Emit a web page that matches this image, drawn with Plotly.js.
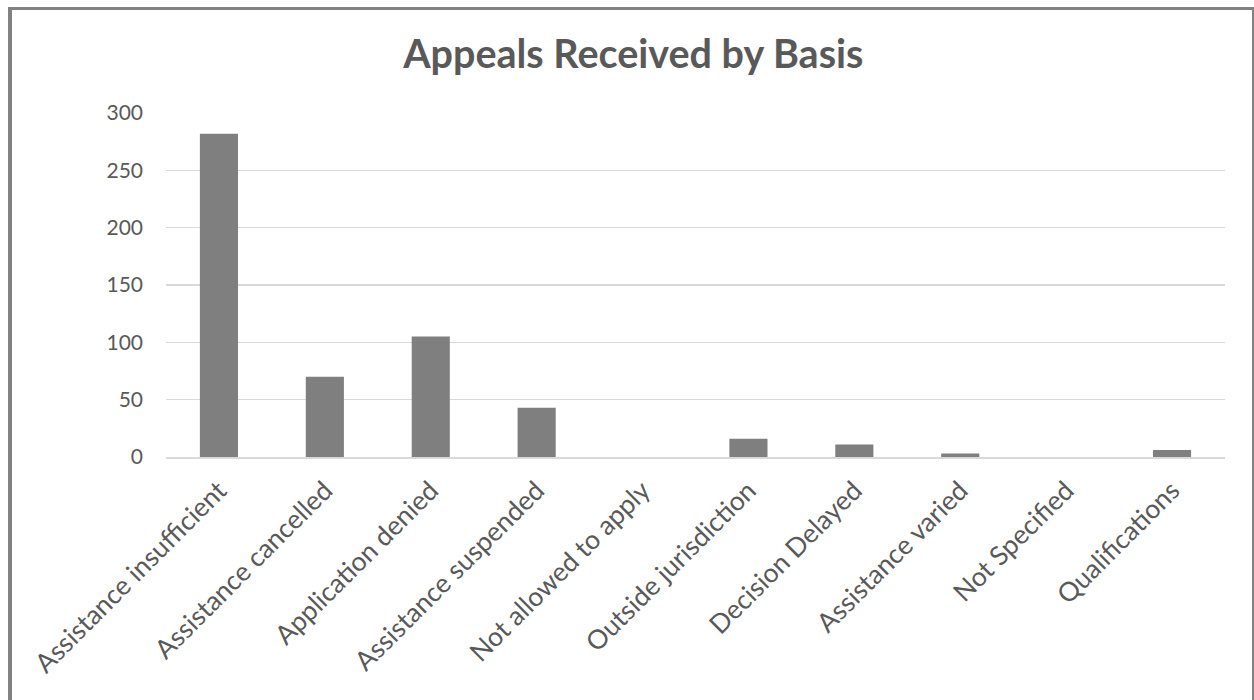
<!DOCTYPE html>
<html>
<head>
<meta charset="utf-8">
<script src="https://cdn.plot.ly/plotly-3.0.1.min.js"></script>
<style>
html,body{margin:0;padding:0;background:#fff;overflow:hidden;}
#chart{position:absolute;left:0;top:0;width:1254px;height:700px;}
#frame{position:absolute;left:8px;top:7px;width:1246px;height:720px;box-sizing:border-box;border-left:4px solid #828282;border-top:3px solid #828282;border-right:2px solid #828282;pointer-events:none;}
</style>
</head>
<body>
<div id="chart"></div>
<div id="frame"></div>
<script>
const categories = ["Assistance insufficient","Assistance cancelled","Application denied","Assistance suspended","Not allowed to apply","Outside jurisdiction","Decision Delayed","Assistance varied","Not Specified","Qualifications"];
const appeals = [282, 70, 105, 43, 0, 16, 11, 3, 0, 6];
const yTicks = [0, 50, 100, 150, 200, 250, 300];

const trace = {
  type: 'bar',
  x: categories,
  y: appeals,
  marker: {color: '#7f7f7f'},
  hoverinfo: 'x+y'
};

const layout = {
  width: 1254, height: 700,
  paper_bgcolor: '#ffffff', plot_bgcolor: '#ffffff',
  margin: {l: 166, r: 29, t: 113, b: 243},
  bargap: 0.64,
  showlegend: false,
  font: {family: 'Lato, sans-serif', color: '#595959'},
  title: {
    text: '<b>Appeals Received by Basis</b>',
    font: {family: 'Lato, sans-serif', size: 39.5, color: '#595959'},
    x: 0.505, xanchor: 'center', y: 0.922, yanchor: 'middle'
  },
  xaxis: {
    type: 'category',
    tickangle: -45,
    tickfont: {size: 26.5, color: '#595959'},
    showline: true, linecolor: '#d9d9d9', linewidth: 1.5,
    ticks: '', ticklabelstandoff: 6,
    showgrid: false, zeroline: false
  },
  yaxis: {
    range: [0, 300],
    tickvals: yTicks,
    tickfont: {size: 21, color: '#595959'},
    showgrid: true, gridcolor: '#d9d9d9', gridwidth: 1.5,
    zeroline: false, showline: false, ticks: '',
    ticklabelstandoff: 22
  }
};

Plotly.newPlot('chart', [trace], layout, {displayModeBar: false, staticPlot: true});
</script>
</body>
</html>
